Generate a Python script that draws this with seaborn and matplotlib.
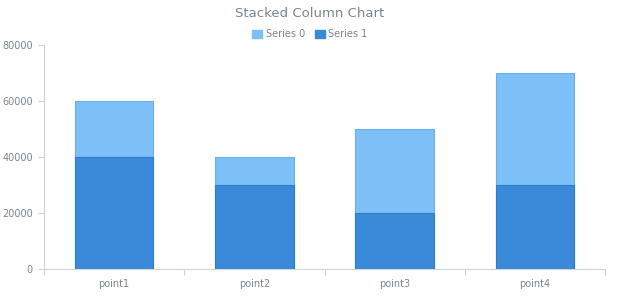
import matplotlib
matplotlib.use("Agg")
import matplotlib.pyplot as plt
import seaborn as sns
import pandas as pd
import numpy as np
from matplotlib.patches import Patch

categories = ["point1", "point2", "point3", "point4"]
series0 = [20000, 10000, 30000, 40000]
series1 = [40000, 30000, 20000, 30000]
yticks = [0, 20000, 40000, 60000, 80000]

sns.set_theme(style="white")
plt.rcParams['font.family'] = ['DejaVu Sans']

c0 = "#7dbff7"
c1 = "#3b89d9"
text_c = "#7c868e"
axis_c = "#d0d4d8"

df = pd.DataFrame({"cat": categories,
                   "s0": series0, "s1": series1})
df["total"] = df["s0"] + df["s1"]

fig = plt.figure(figsize=(6.2, 3.0), dpi=100)
ax = fig.add_axes([0.071, 0.103, 0.905, 0.747])

sns.barplot(data=df, x="cat", y="total", color=c0, saturation=1, width=0.56,
            edgecolor="#6aaeea", linewidth=0.8, ax=ax)
sns.barplot(data=df, x="cat", y="s1", color=c1, saturation=1, width=0.56,
            edgecolor="#2f7bcc", linewidth=0.8, ax=ax)

ax.set_xlim(-0.5, 3.5)
ax.set_ylim(0, 80000)
ax.set_yticks(yticks)
ax.set_yticklabels([str(v) for v in yticks], color=text_c, fontsize=7)
ax.set_xlabel("")
ax.set_ylabel("")
ax.set_xticks(range(len(categories)))
ax.set_xticklabels(categories, color=text_c, fontsize=7)
ax.set_xticks(np.arange(-0.5, 4.0, 1.0), minor=True)
ax.tick_params(axis="x", which="major", length=0, pad=7)
ax.tick_params(axis="x", which="minor", length=4, color=axis_c, width=0.8, bottom=True)
ax.tick_params(axis="y", length=4, color=axis_c, width=0.8, left=True, pad=4)

for s in ["top", "right"]:
    ax.spines[s].set_visible(False)
for s in ["left", "bottom"]:
    ax.spines[s].set_color(axis_c)
    ax.spines[s].set_linewidth(0.8)

fig.text(0.5, 0.955, "Stacked Column Chart", ha="center", va="center",
         color=text_c, fontsize=9.5)

handles = [Patch(facecolor=c0, edgecolor=c0), Patch(facecolor=c1, edgecolor=c1)]
fig.legend(handles, ["Series 0", "Series 1"], loc="center", bbox_to_anchor=(0.5, 0.886),
           ncol=2, frameon=False, fontsize=7, labelcolor=text_c,
           handlelength=1.0, handleheight=1.0, handletextpad=0.4, columnspacing=1.0)

fig.savefig("out.png", dpi=100, facecolor="white")
